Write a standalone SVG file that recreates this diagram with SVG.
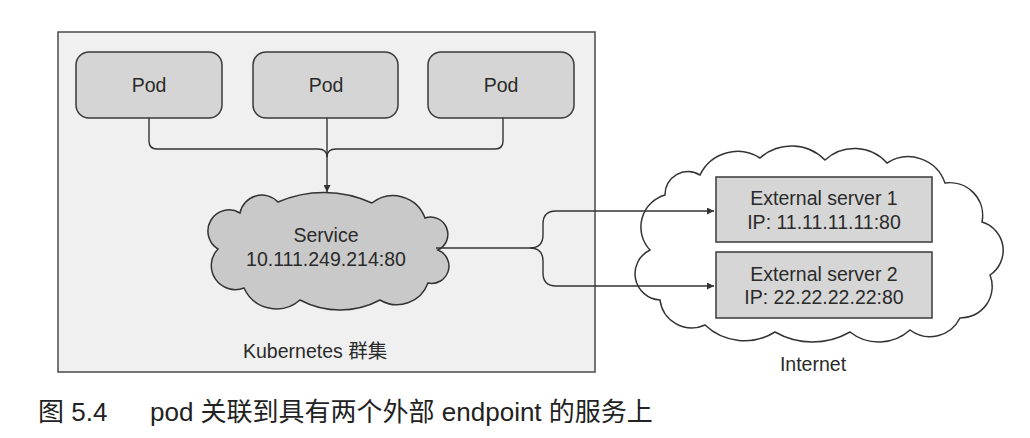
<svg xmlns="http://www.w3.org/2000/svg" width="1030" height="438" viewBox="0 0 1030 438">
<defs>
<style>
.t{font-family:"Liberation Sans",Arial,"Noto Sans CJK SC",sans-serif;font-size:19.5px;fill:#2a2a2a}
.c{text-anchor:middle}
.pod{fill:#d5d5d5;stroke:#3a3a3a;stroke-width:1.5}
.ext{fill:#d6d6d6;stroke:#3a3a3a;stroke-width:1.5}
.conn{fill:none;stroke:#333;stroke-width:1.4}
.cap{font-family:"Liberation Sans",Arial,"Noto Sans CJK SC",sans-serif;font-size:26px;fill:#222}
</style>
<marker id="arr" viewBox="0 0 10 10" refX="10" refY="5" markerWidth="9" markerHeight="7" markerUnits="userSpaceOnUse" orient="auto">
<path d="M0,0 L10,5 L0,10 Z" fill="#333"/>
</marker>
</defs>
<rect width="1030" height="438" fill="#ffffff"/>
<g id="cluster">
<rect x="58" y="32" width="537" height="340" fill="#f0f0f0" stroke="#4a4a4a" stroke-width="1.5"/>
<text class="t" x="243" y="358">Kubernetes 群集</text>
</g>
<g id="pod1">
<rect class="pod" x="76" y="52" width="146" height="66" rx="13"/>
<text class="t c" x="149" y="92">Pod</text>
</g>
<g id="pod2">
<rect class="pod" x="253" y="52" width="145" height="66" rx="13"/>
<text class="t c" x="326" y="92">Pod</text>
</g>
<g id="pod3">
<rect class="pod" x="428" y="52" width="146" height="66" rx="13"/>
<text class="t c" x="501" y="92">Pod</text>
</g>
<g id="service">
<path d="M218,249 A21,21 0 0 1 240,213 A22.3,22.3 0 0 1 278,202 A115,115 0 0 1 372,203 A34,34 0 0 1 425,218 A17.3,17.3 0 0 1 438,250 A17.3,17.3 0 0 1 428,283 A33,33 0 0 1 380,300 A85,85 0 0 1 300,300 A35.7,35.7 0 0 1 244,288 A24,24 0 0 1 218,249 Z" fill="#c9c9c9" stroke="#333" stroke-width="1.5"/>
<text class="t c" x="326" y="242">Service</text>
<text class="t c" x="326" y="266">10.111.249.214:80</text>
</g>
<g id="internet">
<path d="M650,250 A33.4,33.4 0 0 1 665,195 A22.9,22.9 0 0 1 700,175 A41.7,41.7 0 0 1 760,158 A47.1,47.1 0 0 1 825,160 A43.5,43.5 0 0 1 887,163 A38.9,38.9 0 0 1 945,183 A32.8,32.8 0 0 1 982,222 A29.6,29.6 0 0 1 990,275 A31.5,31.5 0 0 1 960,318 A33.5,33.5 0 0 1 910,330 A46.4,46.4 0 0 1 850,332 A75.3,75.3 0 0 1 775,332 A57.5,57.5 0 0 1 705,325 A32,32 0 0 1 660,300 A26.3,26.3 0 0 1 650,250 Z" fill="#ffffff" stroke="#333" stroke-width="1.5"/>
<text class="t c" x="813" y="371">Internet</text>
</g>
<g id="ext1">
<rect class="ext" x="716" y="177" width="216" height="65"/>
<text class="t c" x="824" y="205">External server 1</text>
<text class="t c" x="824" y="229">IP: 11.11.11.11:80</text>
</g>
<g id="ext2">
<rect class="ext" x="716" y="252" width="216" height="66"/>
<text class="t c" x="824" y="281">External server 2</text>
<text class="t c" x="824" y="304">IP: 22.22.22.22:80</text>
</g>
<g id="connectors">
<path class="conn" d="M149,118 V141 Q149,149 157,149 H318 Q327,149 327,157"/>
<path class="conn" d="M503,118 V141 Q503,149 495,149 H336 Q327,149 327,157"/>
<path class="conn" d="M327,118 V192" marker-end="url(#arr)"/>
<path class="conn" d="M436,248 H530 Q543,248 543,235 V224 Q543,211 556,211 H714" marker-end="url(#arr)"/>
<path class="conn" d="M530,248 Q543,248 543,261 V273 Q543,286 556,286 H714" marker-end="url(#arr)"/>
</g>
<g id="caption">
<text class="cap" x="38" y="421">图 5.4</text>
<text class="cap" x="150" y="421">pod 关联到具有两个外部 endpoint 的服务上</text>
</g>
</svg>
